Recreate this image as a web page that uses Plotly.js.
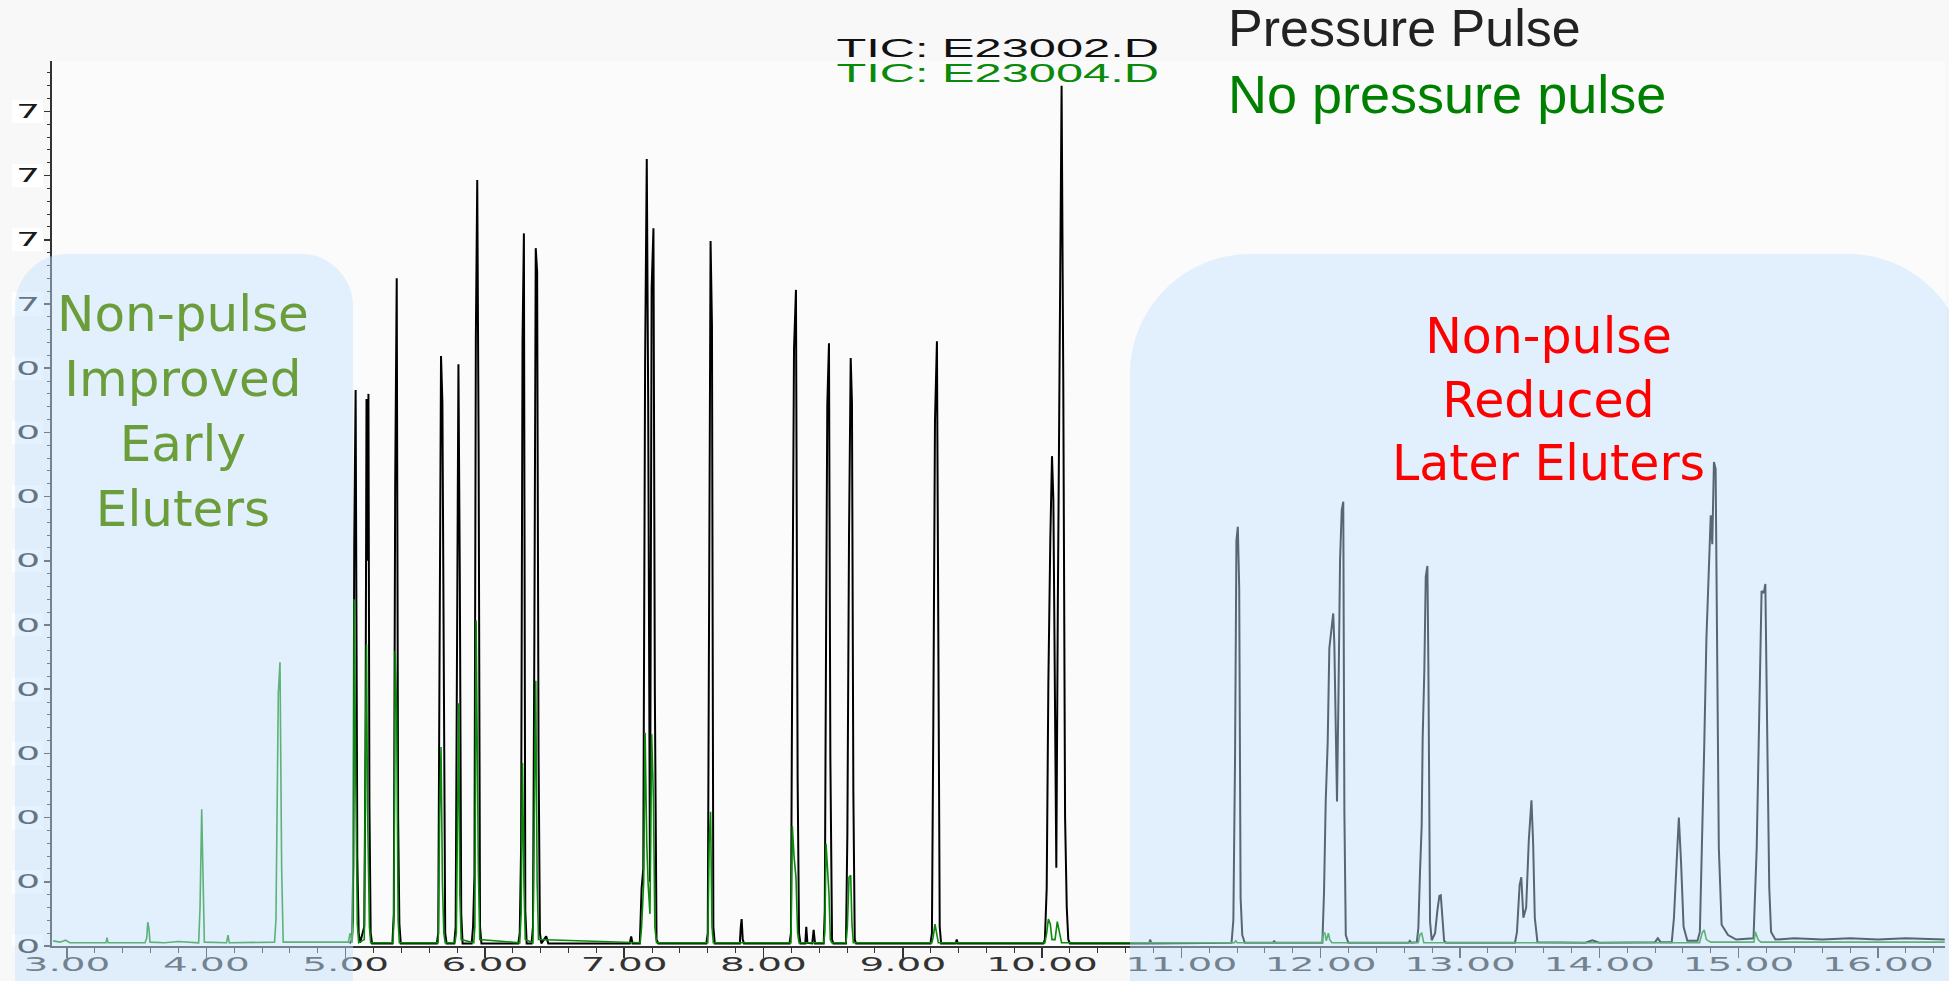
<!DOCTYPE html>
<html>
<head>
<meta charset="utf-8">
<script src="https://cdn.plot.ly/plotly-3.0.1.min.js"></script>
<style>
html,body{margin:0;padding:0;background:#f8f8f8;}
#chart{width:1949px;height:981px;}
</style>
</head>
<body>
<div id="chart"></div>
<script>
// ---------------- DATA ----------------
// Retention time (min) and abundance (in y-tick units) for TIC: E23002.D (pressure pulse, black)
const pulseTime = [
  5.030, 5.046, 5.055, 5.062, 5.072, 5.084, 5.094, 5.104,
  5.134, 5.143, 5.150, 5.157, 5.164, 5.171, 5.180, 5.190,
  5.336, 5.346, 5.356, 5.367, 5.377, 5.386, 5.396,
  5.655, 5.665, 5.675, 5.685, 5.695, 5.705, 5.715, 5.725,
  5.780, 5.790, 5.800, 5.810, 5.820, 5.830, 5.840,
  5.905, 5.915, 5.925, 5.935, 5.945, 5.955, 5.965, 5.975,
  6.240, 6.250, 6.260, 6.270, 6.280, 6.290, 6.300,
  6.335, 6.345, 6.355, 6.365, 6.375, 6.385, 6.395, 6.405,
  6.440, 6.455,
  7.040, 7.050, 7.060,
  7.112, 7.125, 7.137, 7.150, 7.162, 7.172, 7.185, 7.197, 7.210, 7.220, 7.232, 7.245,
  7.590, 7.600, 7.610, 7.620, 7.630, 7.640, 7.650,
  7.830, 7.837, 7.843, 7.851, 7.860,
  8.187, 8.197, 8.207, 8.219, 8.233, 8.245, 8.255, 8.265,
  8.300, 8.307, 8.315, 8.350, 8.360, 8.370,
  8.432, 8.440, 8.449, 8.458, 8.470, 8.480, 8.492, 8.502,
  8.592, 8.602, 8.614, 8.626, 8.635, 8.645, 8.655, 8.665,
  9.199, 9.209, 9.219, 9.231, 9.245, 9.255, 9.265, 9.275,
  9.380, 9.387, 9.395,
  10.010, 10.020, 10.033, 10.045, 10.059, 10.071, 10.081, 10.093, 10.102, 10.113, 10.127, 10.140, 10.152, 10.165, 10.177, 10.188, 10.200,
  10.770, 10.775, 10.785,
  11.360, 11.373, 11.385, 11.395, 11.405, 11.415, 11.425, 11.437, 11.455,
  11.660, 11.665, 11.675,
  12.012, 12.024, 12.036, 12.050, 12.062, 12.079, 12.090, 12.098, 12.110, 12.117, 12.127, 12.139, 12.151, 12.162, 12.170, 12.180, 12.198,
  12.630, 12.640, 12.650,
  12.690, 12.701, 12.713, 12.725, 12.732, 12.744, 12.754, 12.766, 12.773, 12.780, 12.785, 12.797, 12.821, 12.838, 12.852, 12.862, 12.874, 12.886, 12.900,
  13.395, 13.409, 13.428, 13.440, 13.455, 13.475, 13.494, 13.513, 13.525, 13.537, 13.556,
  13.900, 13.950, 14.000, 14.400, 14.420, 14.440,
  14.520, 14.536, 14.555, 14.571, 14.587, 14.605, 14.632,
  14.705, 14.722, 14.738, 14.753, 14.769, 14.788, 14.800, 14.811, 14.823, 14.835, 14.846, 14.858, 14.878, 14.924, 14.983,
  15.107, 15.130, 15.146, 15.165, 15.181, 15.192, 15.204, 15.220, 15.233, 15.264,
  15.400, 15.600, 15.800, 16.000, 16.200, 16.480
];
const pulseSignal = [
  0.04, 0.10, 1.26, 6.26, 8.66, 1.38, 0.20, 0.05,
  0.30, 3.10, 8.52, 6.00, 8.60, 2.20, 0.20, 0.04,
  0.04, 0.50, 7.20, 10.40, 2.00, 0.35, 0.04,
  0.04, 0.20, 4.45, 9.19, 8.47, 3.10, 0.20, 0.04,
  0.04, 0.30, 3.80, 9.06, 5.70, 0.50, 0.04,
  0.04, 0.30, 1.10, 9.48, 11.93, 7.74, 0.30, 0.04,
  0.04, 0.20, 1.56, 9.40, 11.10, 0.55, 0.04,
  0.04, 0.30, 4.72, 10.87, 10.50, 3.05, 0.20, 0.04,
  0.15, 0.04,
  0.04, 0.15, 0.04,
  0.04, 0.90, 1.20, 9.10, 12.26, 8.54, 1.00, 10.25, 11.18, 3.97, 0.10, 0.04,
  0.04, 0.20, 6.03, 10.98, 9.67, 0.30, 0.04,
  0.04, 0.30, 0.42, 0.10, 0.04,
  0.04, 0.20, 4.72, 9.30, 10.22, 2.60, 0.20, 0.04,
  0.04, 0.30, 0.05, 0.04, 0.25, 0.04,
  0.04, 0.55, 4.72, 8.44, 9.39, 2.93, 0.10, 0.04,
  0.04, 1.74, 6.42, 9.16, 8.46, 2.41, 0.10, 0.04,
  0.04, 0.20, 3.44, 8.18, 9.42, 3.27, 0.30, 0.04,
  0.04, 0.10, 0.04,
  0.04, 0.10, 0.90, 4.11, 6.34, 7.63, 6.94, 3.22, 1.22, 5.33, 8.82, 13.40, 8.82, 2.00, 0.60, 0.10, 0.04,
  0.04, 0.10, 0.04,
  0.05, 0.40, 2.90, 6.32, 6.53, 5.58, 0.75, 0.17, 0.05,
  0.05, 0.08, 0.05,
  0.05, 0.85, 2.25, 3.16, 4.64, 5.03, 5.18, 4.69, 3.10, 2.25, 3.80, 6.01, 6.79, 6.92, 2.09, 0.17, 0.05,
  0.05, 0.08, 0.05,
  0.06, 0.28, 1.16, 1.88, 3.24, 4.30, 5.75, 5.92, 4.38, 1.91, 0.38, 0.09, 0.20, 0.56, 0.78, 0.79, 0.40, 0.08, 0.05,
  0.05, 0.22, 0.95, 1.07, 0.44, 0.60, 1.65, 2.27, 1.60, 0.44, 0.06,
  0.05, 0.09, 0.05, 0.06, 0.12, 0.06,
  0.06, 0.44, 1.30, 2.00, 1.30, 0.30, 0.08,
  0.08, 0.22, 1.53, 3.08, 4.79, 6.03, 6.71, 6.26, 7.54, 7.43, 3.94, 1.53, 0.33, 0.17, 0.10,
  0.12, 1.53, 3.55, 5.53, 5.50, 5.64, 3.55, 0.91, 0.22, 0.10,
  0.12, 0.10, 0.12, 0.10, 0.12, 0.10
];

// TIC: E23004.D (no pressure pulse, green)
const noPulseTime = [
  2.900, 2.950, 2.990, 3.020,
  3.280, 3.287, 3.295,
  3.560, 3.572, 3.580, 3.588, 3.596,
  3.700, 3.800,
  3.945, 3.955, 3.967, 3.976, 3.986,
  4.145, 4.156, 4.165,
  4.490, 4.500, 4.517, 4.529, 4.541, 4.552,
  5.020, 5.032, 5.042,
  5.046, 5.055, 5.062, 5.072, 5.084, 5.094,
  5.134, 5.143, 5.150, 5.157, 5.164, 5.171, 5.180,
  5.340, 5.346, 5.356, 5.367, 5.377, 5.386,
  5.665, 5.675, 5.685, 5.695, 5.705, 5.715,
  5.785, 5.795, 5.805, 5.812, 5.820, 5.830,
  5.920, 5.928, 5.937, 5.945, 5.953, 5.963,
  6.250, 6.260, 6.270, 6.280, 6.290,
  6.345, 6.355, 6.365, 6.375, 6.385,
  7.115, 7.125, 7.140, 7.150, 7.162, 7.172, 7.185, 7.197, 7.210, 7.220, 7.232,
  7.600, 7.610, 7.620, 7.630, 7.640,
  8.197, 8.207, 8.219, 8.233, 8.245, 8.255,
  8.432, 8.440, 8.449, 8.458, 8.470, 8.480, 8.490,
  8.592, 8.602, 8.614, 8.626, 8.635, 8.645,
  9.209, 9.219, 9.231, 9.245, 9.255,
  10.020, 10.033, 10.045, 10.059, 10.071, 10.093, 10.109, 10.124, 10.140,
  11.380, 11.390, 11.400,
  12.010, 12.020, 12.030, 12.040, 12.055, 12.065, 12.080,
  12.700, 12.713, 12.725, 12.740,
  14.720, 14.738, 14.753, 14.769, 14.800,
  15.110, 15.120, 15.140, 15.160,
  16.480
];
const noPulseSignal = [
  0.08, 0.06, 0.09, 0.05,
  0.05, 0.13, 0.05,
  0.05, 0.12, 0.37, 0.27, 0.06,
  0.05, 0.07,
  0.05, 0.59, 2.13, 1.20, 0.06,
  0.05, 0.17, 0.05,
  0.06, 0.41, 3.94, 4.42, 1.20, 0.06,
  0.06, 0.20, 0.06,
  0.05, 0.40, 5.40, 2.83, 0.35, 0.05,
  0.10, 3.20, 4.70, 2.20, 1.00, 0.30, 0.05,
  0.05, 0.40, 4.60, 3.60, 0.40, 0.05,
  0.05, 2.00, 3.10, 1.00, 0.20, 0.05,
  0.05, 0.20, 2.20, 3.78, 0.80, 0.10,
  0.05, 0.30, 5.07, 3.00, 1.20, 0.10,
  0.05, 0.50, 2.85, 1.00, 0.10,
  0.05, 2.20, 4.13, 1.00, 0.10,
  0.05, 0.30, 1.00, 3.32, 1.60, 0.95, 0.50, 3.30, 2.30, 0.30, 0.05,
  0.05, 1.60, 2.09, 0.30, 0.05,
  0.05, 1.87, 1.40, 1.07, 0.20, 0.05,
  0.05, 0.20, 1.59, 1.20, 0.82, 0.10, 0.05,
  0.05, 0.30, 1.07, 1.10, 0.34, 0.05,
  0.05, 0.15, 0.34, 0.15, 0.05,
  0.05, 0.20, 0.42, 0.34, 0.10, 0.10, 0.38, 0.20, 0.05,
  0.05, 0.08, 0.05,
  0.05, 0.20, 0.20, 0.08, 0.20, 0.10, 0.05,
  0.05, 0.18, 0.20, 0.05,
  0.05, 0.20, 0.25, 0.10, 0.06,
  0.06, 0.22, 0.10, 0.06,
  0.06
];

// Axis ticks (labels are clipped in the source screenshot)
const xTickValues = [3, 4, 5, 6, 7, 8, 9, 10, 11, 12, 13, 14, 15, 16];
const xTickLabels = ["3.00", "4.00", "5.00", "6.00", "7.00", "8.00", "9.00", "10.00", "11.00", "12.00", "13.00", "14.00", "15.00", "16.00"];
const yTickValues = [0, 1, 2, 3, 4, 5, 6, 7, 8, 9, 10, 11, 12, 13];
const yTickLabels = ["0", "0", "0", "0", "0", "0", "0", "0", "0", "0", "7", "7", "7", "7"];

const seriesNames = ["TIC: E23002.D", "TIC: E23004.D"];
const headerLabels = ["Pressure Pulse", "No pressure pulse"];
const earlyLabel = ["Non-pulse", "Improved", "Early", "Eluters"];
const lateLabel = ["Non-pulse", "Reduced", "Later Eluters"];

// ---------------- LAYOUT helpers ----------------
const W = 1949, H = 981;
const M = {l: 52, r: 4, t: 61, b: 35};
const PW = W - M.l - M.r, PH = H - M.t - M.b;
function px(X) { return (X - M.l) / PW; }
function py(Y) { return (H - M.b - Y) / PH; }

function roundedTop(x0, x1, yTop, yBot, r) {
  const a = px(x0), b = px(x1), t = py(yTop), bt = py(yBot);
  const rx = r / PW, ry = r / PH;
  const k = 0.45;
  return 'M ' + a + ',' + bt +
    ' L ' + a + ',' + (t - ry) +
    ' C ' + a + ',' + (t - ry * k) + ' ' + (a + rx * k) + ',' + t + ' ' + (a + rx) + ',' + t +
    ' L ' + (b - rx) + ',' + t +
    ' C ' + (b - rx * k) + ',' + t + ' ' + b + ',' + (t - ry * k) + ' ' + b + ',' + (t - ry) +
    ' L ' + b + ',' + bt + ' Z';
}

const traces = [
  {type: 'scatter', mode: 'lines', name: seriesNames[0], x: pulseTime, y: pulseSignal,
   line: {color: '#000000', width: 2}, hoverinfo: 'skip'},
  {type: 'scatter', mode: 'lines', name: seriesNames[1], x: noPulseTime, y: noPulseSignal,
   line: {color: '#0a8a0a', width: 1.6}, hoverinfo: 'skip'}
];

const shapes = [];
// white label boxes behind clipped y labels
yTickValues.forEach(function (v) {
  shapes.push({type: 'rect', xref: 'paper', yref: 'y', x0: px(12), x1: px(43), y0: v - 0.18, y1: v + 0.18,
    fillcolor: '#ffffff', line: {width: 0}, layer: 'below'});
});
// translucent highlight panels
shapes.push({type: 'path', xref: 'paper', yref: 'paper', path: roundedTop(15, 353, 254, 1010, 52),
  fillcolor: 'rgba(192,226,253,0.45)', line: {width: 0}, layer: 'above'});
shapes.push({type: 'path', xref: 'paper', yref: 'paper', path: roundedTop(1130, 1968, 254, 1010, 120),
  fillcolor: 'rgba(192,226,253,0.45)', line: {width: 0}, layer: 'above'});

const annotations = [
  {xref: 'paper', yref: 'paper', x: px(997), y: py(48), xanchor: 'center', yanchor: 'middle', showarrow: false,
   text: seriesNames[0], font: {family: 'Liberation Sans, Arial', size: 25, color: '#111111'}},
  {xref: 'paper', yref: 'paper', x: px(997), y: py(73), xanchor: 'center', yanchor: 'middle', showarrow: false,
   text: seriesNames[1], font: {family: 'Liberation Sans, Arial', size: 25, color: '#0a8a0a'}},
  {xref: 'paper', yref: 'paper', x: px(1226), y: py(28), xanchor: 'left', yanchor: 'middle', showarrow: false,
   text: headerLabels[0], font: {family: 'Liberation Sans, Arial', size: 52, color: '#222222'}},
  {xref: 'paper', yref: 'paper', x: px(1226), y: py(94), xanchor: 'left', yanchor: 'middle', showarrow: false,
   text: headerLabels[1], font: {family: 'Liberation Sans, Arial', size: 54, color: '#008000'}},
  {xref: 'paper', yref: 'paper', x: px(183), y: py(412), xanchor: 'center', yanchor: 'middle', showarrow: false,
   align: 'center', text: earlyLabel.join('<br>'), font: {family: 'DejaVu Sans', size: 50, color: '#6b9e3b'}},
  {xref: 'paper', yref: 'paper', x: px(1548), y: py(400), xanchor: 'center', yanchor: 'middle', showarrow: false,
   align: 'center', text: lateLabel.join('<br>'), font: {family: 'DejaVu Sans', size: 49, color: '#ff0000'}}
];

const layout = {
  width: W, height: H,
  margin: {l: M.l, r: M.r, t: M.t, b: M.b, pad: 0},
  paper_bgcolor: '#f8f8f8',
  plot_bgcolor: '#fbfbfb',
  showlegend: false,
  xaxis: {
    range: [3 - 15 / 139.3, 3 + (W - M.r - 67) / 139.3],
    tickmode: 'array', tickvals: xTickValues, ticktext: xTickLabels,
    ticks: 'outside', ticklen: 10, tickwidth: 1.5, tickcolor: '#333333',
    ticklabelstandoff: -11,
    showline: true, linecolor: '#333333', linewidth: 2,
    showgrid: false, zeroline: false,
    tickfont: {family: 'DejaVu Sans', size: 20, color: '#333333'},
    minor: {tickmode: 'linear', tick0: 0, dtick: 0.2, ticks: 'outside', ticklen: 5, tickwidth: 1, tickcolor: '#333333', showgrid: false}
  },
  yaxis: {
    range: [0, PH / 64.2],
    tickmode: 'array', tickvals: yTickValues, ticktext: yTickLabels,
    ticks: 'outside', ticklen: 6, tickwidth: 1.5, tickcolor: '#333333',
    showline: true, linecolor: '#333333', linewidth: 2,
    showgrid: false, zeroline: false,
    tickfont: {family: 'DejaVu Sans', size: 19, color: '#1a1a1a'},
    minor: {tickmode: 'linear', tick0: 0, dtick: 0.2, ticks: 'outside', ticklen: 3, tickwidth: 1, tickcolor: '#333333', showgrid: false}
  },
  shapes: shapes,
  annotations: annotations
};

function stretch(nodes, f) {
  nodes.forEach(function (t) {
    const L = t.getComputedTextLength();
    if (L > 0) {
      t.setAttribute('textLength', (L * f).toFixed(1));
      t.setAttribute('lengthAdjust', 'spacingAndGlyphs');
    }
  });
}

Plotly.newPlot('chart', traces, layout, {staticPlot: true, displayModeBar: false}).then(function () {
  stretch(Array.from(document.querySelectorAll('.xtick text')), 1.95);
  stretch(Array.from(document.querySelectorAll('.ytick text')), 2.0);
  stretch(Array.from(document.querySelectorAll('.annotation-text')).filter(function (t) {
    return t.textContent.indexOf('TIC') === 0;
  }), 1.95);
});
</script>
</body>
</html>
